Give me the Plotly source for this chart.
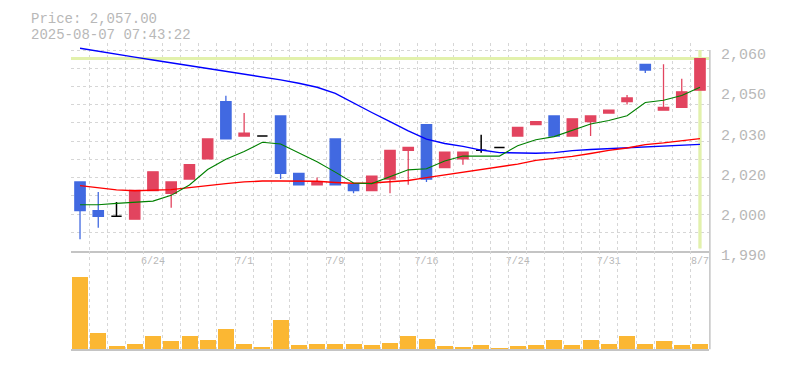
import plotly.graph_objects as go

# ---------------- data ----------------
tick_labels = ["6/24", "7/1", "7/9", "7/16", "7/24", "7/31", "8/7"]
price_tick_values = [1990, 2004, 2018, 2032, 2046, 2060]
price_tick_labels = ["1,990", "2,000", "2,020", "2,030", "2,050", "2,060"]
timestamp = "2025-08-07 07:43:22"

open_ = [2014, 2004, 2002, 2001, 2011, 2010, 2015, 2022, 2042, 2030,
         2030, 2037, 2017, 2013, 2029, 2013, 2011, 2015, 2025, 2034,
         2019, 2022, 2025, 2026, 2030, 2034, 2037, 2030, 2035, 2038,
         2042, 2055, 2039, 2040, 2046]
high = [2014, 2010.5, 2007, 2011, 2017.5, 2014, 2020, 2029, 2044, 2038,
        2030, 2037, 2017, 2015.5, 2029, 2013, 2016, 2025, 2026, 2034,
        2024.4, 2024.4, 2030.4, 2026, 2033, 2035, 2037, 2036, 2037, 2039,
        2044.3, 2055, 2055, 2050, 2057]
low = [1994, 1998, 2002, 2001, 2011, 2005, 2015, 2022, 2029, 2030,
       2030, 2015, 2013, 2013, 2013, 2010, 2011, 2010, 2013, 2014,
       2019, 2020, 2024.2, 2026, 2030, 2034, 2030, 2030, 2030, 2038,
       2041, 2052, 2039, 2040, 2046]
close = [2004, 2002, 2002, 2011, 2017.5, 2014, 2020, 2029, 2029, 2031,
         2030, 2017, 2013, 2014, 2013, 2011, 2016, 2025, 2026, 2015,
         2024.4, 2024.4, 2025, 2026, 2033, 2035, 2030, 2036, 2037, 2039,
         2043.3, 2053, 2040, 2045.4, 2057]
volume = [7100, 1630, 400, 530, 1300, 830, 1300, 930, 2030, 530,
          300, 2930, 430, 530, 530, 530, 430, 630, 1300, 1000,
          400, 300, 500, 200, 400, 500, 900, 500, 900, 600,
          1300, 600, 800, 500, 600]
ma5 = [2006.0, 2006.0, 2006.5, 2007.0, 2007.3, 2009.3, 2012.9, 2018.3, 2021.9, 2024.6,
       2027.8, 2027.2, 2024.0, 2021.0, 2017.4, 2013.6, 2013.4, 2015.8, 2018.2, 2018.6,
       2021.3, 2023.0, 2023.0, 2023.0, 2026.6, 2028.7, 2029.8, 2032.0, 2034.2, 2035.4,
       2037.1, 2041.7, 2042.5, 2044.1, 2047.0]
ma25 = [2012.7, 2011.9, 2011.2, 2010.9, 2011.0, 2011.3, 2012.0, 2012.8, 2013.4, 2014.0,
        2014.3, 2014.3, 2014.3, 2014.2, 2013.8, 2013.5, 2013.6, 2014.1, 2014.5, 2015.5,
        2016.4, 2017.3, 2018.3, 2019.2, 2020.2, 2021.5, 2022.2, 2022.9, 2023.9, 2025.0,
        2025.8, 2027.0, 2027.6, 2028.3, 2029.1]
ma75 = [2060.6, 2059.5, 2058.5, 2057.5, 2056.5, 2055.5, 2054.6, 2053.7, 2052.6, 2051.6,
        2050.7, 2049.6, 2048.4, 2047.0, 2044.9, 2041.5, 2038.2, 2035.0, 2031.8, 2028.9,
        2027.4, 2026.4, 2025.1, 2024.2, 2024.0, 2024.0, 2024.2, 2024.9, 2025.3, 2025.6,
        2025.8, 2026.2, 2026.4, 2026.8, 2027.1]

# ---------------- styles ----------------
W, H = 785, 370
RED = "#e2445f"
BLUE = "#4169e1"
VOL = "#fbb733"
GRID = "#d6d6d6"
BORDER = "#c4c4c4"
TXT = "#b8b8b8"
HILITE = "#e2f1ac"
MONO = "Liberation Mono, DejaVu Sans Mono, monospace"

n = len(close)
idx = list(range(n))
reg = [i for i in idx if open_[i] != close[i]]
doj = [i for i in idx if open_[i] == close[i]]

ymin, ymax = price_tick_values[0], price_tick_values[-1]
grid_vals = [ymin + k * (ymax - ymin) / 11 for k in range(12)]
x_tickvals = list(range(n - 1, -1, -5))[::-1]
x_minor = [i - 0.5 for i in range(n + 1)]

# pixel layout
px_left, px_right = 70.9, 709.1
px_price_top, px_price_bot = 50.0, 250.7
px_vol_bot = 349.3
ppu = (px_price_bot - px_price_top) / (ymax - ymin)
ytop_ext = ymax + 2.5
dom_x = [px_left / W, px_right / W]
dom_price = [1 - px_price_bot / H, 1 - (px_price_top - 2.5 * ppu) / H]
dom_vol = [1 - px_vol_bot / H, 1 - px_price_bot / H]

fig = go.Figure()

for vals, col, w in [(ma75, "blue", 1.4), (ma25, "red", 1.4), (ma5, "green", 1.1)]:
    fig.add_trace(go.Scatter(x=idx, y=vals, mode="lines", line=dict(color=col, width=w),
                             hoverinfo="skip", xaxis="x", yaxis="y"))

fig.add_trace(go.Candlestick(
    x=reg, open=[open_[i] for i in reg], high=[high[i] for i in reg],
    low=[low[i] for i in reg], close=[close[i] for i in reg],
    increasing=dict(line=dict(color=RED, width=1.3), fillcolor=RED),
    decreasing=dict(line=dict(color=BLUE, width=1.3), fillcolor=BLUE),
    whiskerwidth=0, xaxis="x", yaxis="y", hoverinfo="skip"))
fig.add_trace(go.Candlestick(
    x=doj, open=[open_[i] for i in doj], high=[high[i] for i in doj],
    low=[low[i] for i in doj], close=[close[i] for i in doj],
    increasing=dict(line=dict(color="black", width=1.5), fillcolor="black"),
    decreasing=dict(line=dict(color="black", width=1.5), fillcolor="black"),
    whiskerwidth=0, xaxis="x", yaxis="y", hoverinfo="skip"))

fig.add_trace(go.Bar(x=idx, y=volume, marker=dict(color=VOL, line=dict(width=0)),
                     width=0.88, xaxis="x2", yaxis="y2", hoverinfo="skip"))

# a dummy trace so yaxis3 is drawn
fig.add_trace(go.Scatter(x=[0], y=[ymin], mode="markers", marker=dict(opacity=0),
                         xaxis="x", yaxis="y3", hoverinfo="skip"))

axis_common = dict(range=[-0.5, n - 0.5], domain=dom_x, showgrid=False, zeroline=False,
                   showline=True, linecolor=BORDER, linewidth=1.5, ticks="",
                   fixedrange=True, automargin=False,
                   minor=dict(tickmode="array", tickvals=x_minor, showgrid=True,
                              gridcolor=GRID, gridwidth=1, griddash="3px,3px", ticks=""))

fig.update_layout(
    template="none", autosize=False,
    width=W, height=H, margin=dict(l=0, r=0, t=0, b=0, pad=0, autoexpand=False),
    paper_bgcolor="white", plot_bgcolor="white", showlegend=False,
    boxgap=0.19, bargap=0,
    xaxis=dict(**axis_common, anchor="y", tickmode="array", tickvals=x_tickvals,
               ticktext=tick_labels, tickfont=dict(family=MONO, size=10, color=TXT),
               rangeslider=dict(visible=False)),
    xaxis2=dict(**axis_common, anchor="y2", showticklabels=False, matches="x"),
    yaxis=dict(domain=dom_price, range=[ymin, ytop_ext], anchor="x", side="right",
               tickmode="array", tickvals=grid_vals, showticklabels=False, ticks="",
               showgrid=True, gridcolor=GRID, gridwidth=1, griddash="3px,3px",
               zeroline=False, showline=False, fixedrange=True, automargin=False),
    yaxis3=dict(overlaying="y", range=[ymin, ytop_ext], anchor="x", side="right",
                tickmode="array", tickvals=price_tick_values, ticktext=price_tick_labels,
                tickfont=dict(family=MONO, size=15, color=TXT), showgrid=False,
                zeroline=False, showline=False, ticks="", ticklabelstandoff=11,
                ticklabelshift=4, fixedrange=True, automargin=False),
    yaxis2=dict(domain=dom_vol, range=[0, 9700], anchor="x2", showticklabels=False,
                showgrid=False, zeroline=False, showline=False, ticks="", fixedrange=True,
                automargin=False),
)

shapes = [
    # hide grid above top price line (area reserved for MA overflow)
    dict(type="rect", xref="paper", yref="y", x0=dom_x[0] - 0.002, x1=dom_x[1] + 0.002,
         y0=ymax + 0.15, y1=ytop_ext, fillcolor="white", line=dict(width=0), layer="between"),
    # current price line
    dict(type="line", xref="x", yref="y", x0=-0.5, x1=n - 0.5, y0=close[-1], y1=close[-1],
         line=dict(color=HILITE, width=3), layer="between"),
    # crosshair on the last candle
    dict(type="line", xref="x", yref="y", x0=n - 1, x1=n - 1, y0=ymin + 0.8, y1=ymax,
         line=dict(color=HILITE, width=3.3), layer="between"),
    # right border
    dict(type="line", xref="paper", yref="paper", x0=dom_x[1] + 0.001, x1=dom_x[1] + 0.001,
         y0=1 - px_price_top / H, y1=dom_vol[0], line=dict(color=BORDER, width=1.5)),
]
fig.update_layout(shapes=shapes)

fig.add_annotation(x=29 / W, y=1 - 18.5 / H, xref="paper", yref="paper", xanchor="left",
                   yanchor="middle", showarrow=False, text=f"Price: {close[-1]:,.2f}",
                   font=dict(family=MONO, size=14, color=TXT))
fig.add_annotation(x=29 / W, y=1 - 34.6 / H, xref="paper", yref="paper", xanchor="left",
                   yanchor="middle", showarrow=False, text=timestamp,
                   font=dict(family=MONO, size=14, color=TXT))

fig.write_html("out.html", config=dict(displayModeBar=False))
